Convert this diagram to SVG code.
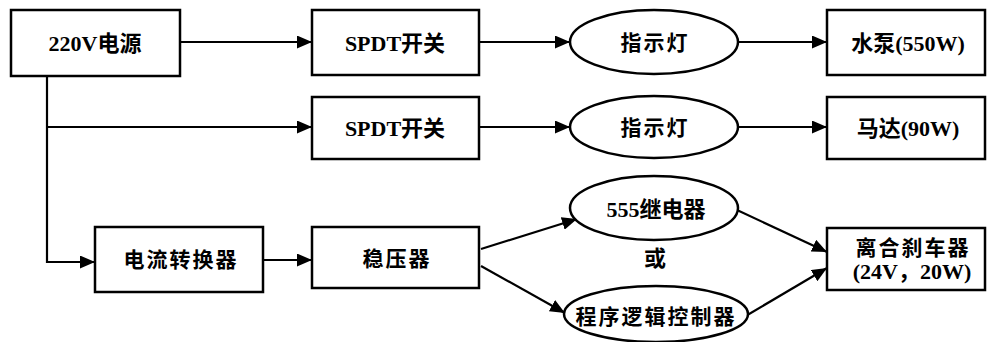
<svg xmlns="http://www.w3.org/2000/svg" width="987" height="342" viewBox="0 0 987 342">
<style>
.n{fill:#fff;stroke:#000;stroke-width:2.5}
.t{font-family:"Liberation Serif","Noto Sans CJK SC",serif;font-weight:bold;font-size:22px;text-anchor:middle;dominant-baseline:central;fill:#000}
.s{font-size:21px;letter-spacing:2px}
.c{fill:none;stroke:#000;stroke-width:2.2;marker-end:url(#ah)}
</style>
<defs>
<marker id="ah" markerUnits="userSpaceOnUse" markerWidth="15" markerHeight="13" refX="15" refY="6.5" orient="auto">
<path d="M0,0 L15,6.5 L0,13 z" fill="#000"/>
</marker>
</defs>
<rect width="987" height="342" fill="#fff"/>
<g id="connectors">
<path class="c" d="M180,42 H312"/>
<path class="c" d="M47,76 V262 H95"/>
<path class="c" d="M47,127 H312"/>
<path class="c" d="M479,42 H570"/>
<path class="c" d="M479,127 H570"/>
<path class="c" d="M738,42 H827"/>
<path class="c" d="M738,127 H827"/>
<path class="c" d="M263,260 H312"/>
<path class="c" d="M481,249 L577,219"/>
<path class="c" d="M481,266 L565,313"/>
<path class="c" d="M737,210 L827,252"/>
<path class="c" d="M744,317 L827,268"/>
</g>
<g id="power"><rect class="n" x="11" y="10" width="169" height="66"/><text class="t" x="95" y="43">220V电源</text></g>
<g id="spdt1"><rect class="n" x="312" y="10" width="167" height="65"/><text class="t" x="395" y="43">SPDT开关</text></g>
<g id="lamp1"><ellipse class="n" cx="654" cy="42" rx="84" ry="32"/><text class="t s" x="655" y="43">指示灯</text></g>
<g id="pump"><rect class="n" x="827" y="10" width="158" height="65"/><text class="t" x="908" y="43">水泵(550W)</text></g>
<g id="spdt2"><rect class="n" x="312" y="97" width="167" height="62"/><text class="t" x="395" y="128">SPDT开关</text></g>
<g id="lamp2"><ellipse class="n" cx="654" cy="127" rx="84" ry="31"/><text class="t s" x="655" y="128">指示灯</text></g>
<g id="motor"><rect class="n" x="827" y="97" width="158" height="62"/><text class="t" x="908" y="128">马达(90W)</text></g>
<g id="converter"><rect class="n" x="95" y="227" width="168" height="65"/><text class="t s" x="181" y="260">电流转换器</text></g>
<g id="regulator"><rect class="n" x="312" y="227" width="167" height="61"/><text class="t s" x="397" y="259">稳压器</text></g>
<g id="relay"><ellipse class="n" cx="654" cy="208" rx="84" ry="32"/><text class="t" x="656" y="209">555继电器</text></g>
<g id="or"><text class="t" x="655" y="258">或</text></g>
<g id="plc"><ellipse class="n" cx="656" cy="314" rx="92" ry="28"/><text class="t s" x="656" y="317">程序逻辑控制器</text></g>
<g id="brake"><rect class="n" x="827" y="228" width="158" height="62"/><text class="t s" x="913" y="248">离合刹车器</text><text class="t" x="912" y="271">(24V，20W)</text></g>
</svg>
